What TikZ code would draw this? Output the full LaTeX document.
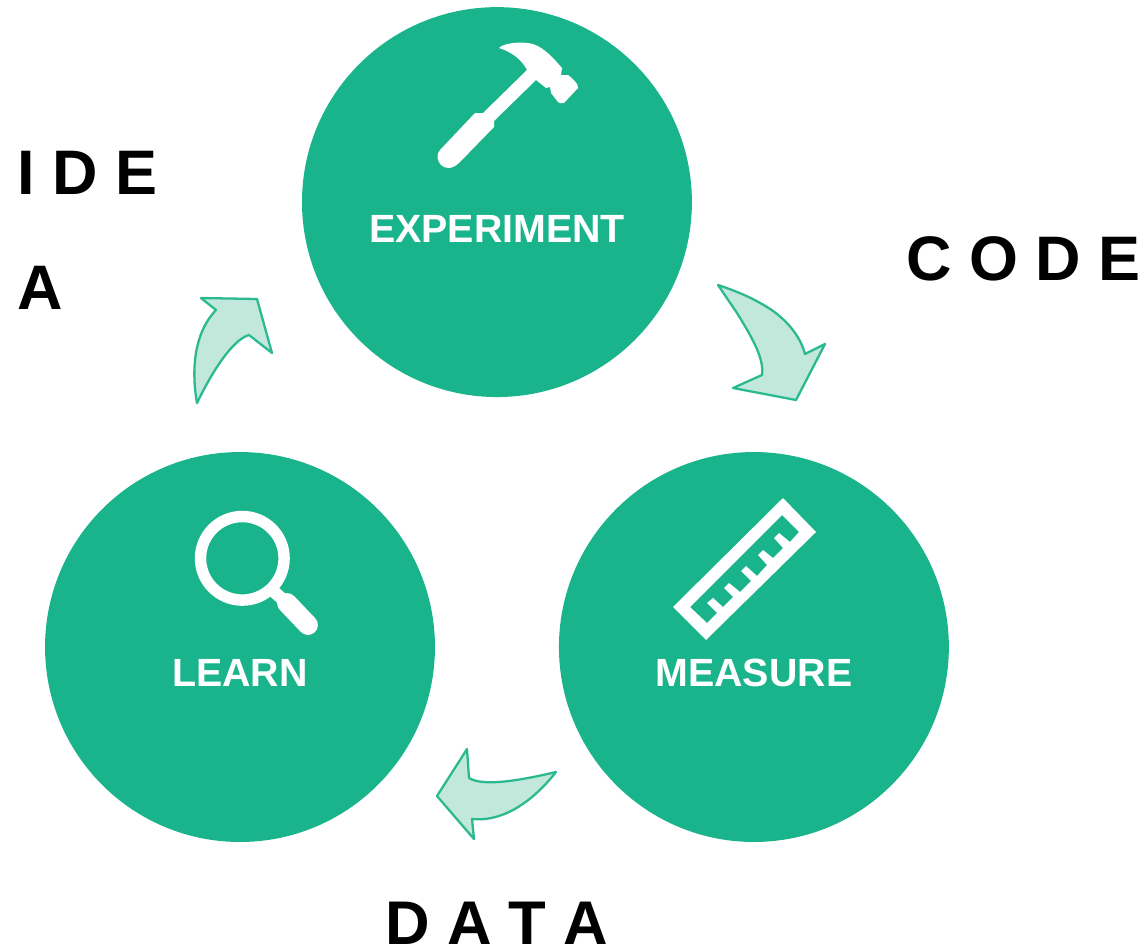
\documentclass[tikz,border=0pt]{standalone}
\usepackage{fontspec}
\setmainfont{Liberation Sans}
\usepackage{tikz}
\usetikzlibrary{positioning}
\definecolor{stagegreen}{RGB}{26,180,140}
\definecolor{arrowfill}{RGB}{194,232,219}
\definecolor{arrowline}{RGB}{43,185,143}

\tikzset{
  stage/.style={circle,fill=stagegreen,minimum size=7.8cm,inner sep=0pt},
  stagelabel/.style={text=white,font=\bfseries\fontsize{22.4}{26}\selectfont,inner sep=0pt},
  sidelabel/.style={text=black,font=\bfseries\fontsize{35.8}{65.2}\selectfont,inner sep=0pt,align=left},
  bigarrow/.style={fill=arrowfill,draw=arrowline,line width=1.3pt,line join=round},
  icon/.style={fill=white,draw=none}
}

\begin{document}
\begin{tikzpicture}[x=0.02cm,y=-0.02cm,on grid]
   \useasboundingbox (0,0) rectangle (1148,950);
   \node[stage] (q_learn) at (240,647) {};
   \node[stage] (q_measure) [right=10.28cm of q_learn] {};
   \node[stage] (q_experiment) [above right=8.9cm and 5.14cm of q_learn] {};

   \node[stagelabel] (t_experiment) [below=0.53cm of q_experiment] {EXPERIMENT};
   \node[stagelabel] (t_measure) [below=0.52cm of q_measure] {MEASURE};
   \node[stagelabel] (t_learn) [below=0.52cm of q_learn] {LEARN};

   \node[sidelabel,anchor=base west] (t_idea) at (17.5,309) {I D E\\A};
   \node[sidelabel,anchor=base east] (t_code) at (1141,280) {C O D E};
   \node[sidelabel,anchor=base,font=\bfseries\fontsize{35.1}{65}\selectfont] (t_data) at (497,944) {D A T A};

   % arrows between the stages
   \draw[bigarrow] (718,285) .. controls (745,294) and (757,301) .. (767,307)
     .. controls (785,318) and (800,335) .. (805,354)
     -- (825,344) -- (796,400) -- (733,388) -- (762,375)
     .. controls (764,360) and (755,342) .. (737,313) -- cycle;
   \draw[bigarrow] (556,772) .. controls (530,778) and (485,788) .. (469,778)
     -- (467,749) -- (437,796) -- (474,839) -- (472,819)
     .. controls (500,822) and (530,805) .. cycle;
   \draw[bigarrow] (197,403) .. controls (192,375) and (192,335) .. (216,310)
     -- (201,298) -- (257,299) -- (272,353) -- (249,335)
     .. controls (232,340) and (212,372) .. cycle;

   % hammer
   \fill[icon] (499,48) .. controls (503,43) and (522,41) .. (533,44)
     .. controls (545,48) and (555,60) .. (562,68) -- (561,75) -- (568,75)
     .. controls (572,78) and (579,84) .. (578,88) -- (564,103)
     .. controls (561,104) and (559,103) .. (558,102) -- (551,93) -- (550,87)
     -- (546,88) -- (536,80) -- (494,121) -- (494,127) -- (460,162)
     .. controls (452,170) and (445,169) .. (441,165)
     .. controls (437,161) and (436,154) .. (440,150) -- (475,113) -- (483,113)
     -- (527,70) .. controls (522,60) and (512,52) .. cycle;

   % ruler
   \fill[icon,even odd rule] (783,498) -- (816,532) -- (706,640) -- (673,607) -- cycle
     (782,515) -- (799,532) -- (790,542) -- (779,533) -- (774,538) -- (783,548)
     -- (773,558) -- (763,550) -- (758,555) -- (767,565) -- (757,576) -- (746,566)
     -- (741,571) -- (751,581) -- (740,592) -- (729,583) -- (724,588) -- (733,597)
     -- (723,607) -- (713,598) -- (707,603) -- (717,613) -- (707,623) -- (690,607) -- cycle;

   % magnifier
   \draw[white,line width=6.5pt] (242.3,558.3) circle (41.8);
   \draw[white,line width=7pt] (272,590) -- (288,604);
   \draw[white,line width=11.3pt,line cap=round] (287,603) -- (308,625);
\end{tikzpicture}
\end{document}
